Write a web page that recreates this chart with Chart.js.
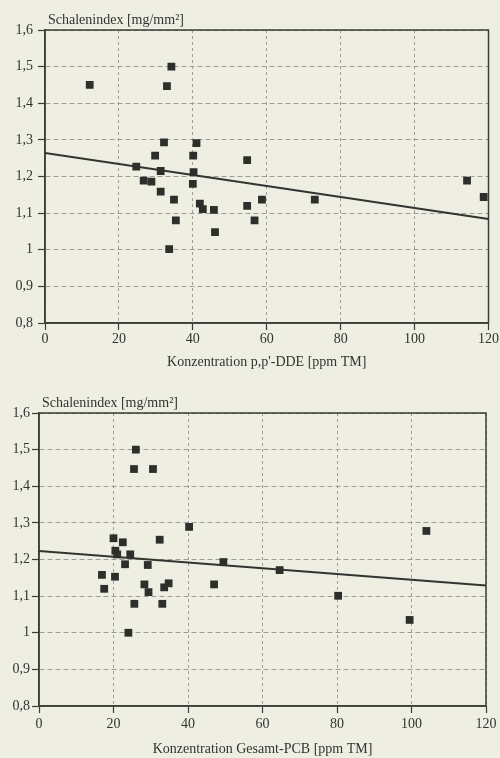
<!DOCTYPE html>
<html>
<head>
<meta charset="utf-8">
<title>Schalenindex</title>
<style>
  body { margin: 0; background: #efeee3; }
  .chart-box { position: absolute; left: 0; width: 500px; }
</style>
</head>
<body>
<div class="chart-box" style="top:0;height:378px"><canvas id="ddeChart" width="500" height="378"></canvas></div>
<div class="chart-box" style="top:378px;height:380px"><canvas id="pcbChart" width="500" height="380"></canvas></div>

<script src="https://cdn.jsdelivr.net/npm/chart.js"></script>
<script>
  // Werte
  var ddeX = [12.1, 34.2, 33.0, 32.2, 41.0, 29.8, 40.1, 24.7, 31.3, 40.2, 26.7, 28.8, 40.0, 31.3,
              34.9, 35.4, 33.6, 41.9, 42.7, 45.7, 46.0, 54.7, 54.7, 58.7, 56.7, 73.0, 114.2, 118.7];
  var ddeY = [1.45, 1.50, 1.447, 1.293, 1.291, 1.257, 1.257, 1.227, 1.215, 1.212, 1.189, 1.186, 1.18, 1.159,
              1.137, 1.08, 1.002, 1.126, 1.111, 1.109, 1.048, 1.12, 1.245, 1.137, 1.08, 1.137, 1.189, 1.144];
  var ddeFitX = [0, 120];
  var ddeFitY = [1.264, 1.084];

  var pcbX = [26.0, 25.5, 30.6, 40.3, 20.0, 22.5, 32.4, 20.5, 21.0, 24.5, 23.1, 29.2, 49.5, 16.9,
              20.4, 104.0, 64.6, 17.5, 28.3, 29.4, 25.6, 24.0, 33.6, 34.8, 33.1, 47.0, 80.3, 99.5];
  var pcbY = [1.50, 1.447, 1.447, 1.289, 1.258, 1.247, 1.254, 1.224, 1.214, 1.214, 1.187, 1.185, 1.193, 1.158,
              1.153, 1.278, 1.171, 1.12, 1.132, 1.111, 1.079, 1.0, 1.124, 1.135, 1.079, 1.132, 1.101, 1.035];
  var pcbFitX = [0, 120];
  var pcbFitY = [1.223, 1.129];

  var xTickLabels = ["0", "20", "40", "60", "80", "100", "120"];
  var yTickLabels = ["0,8", "0,9", "1", "1,1", "1,2", "1,3", "1,4", "1,5", "1,6"];

  var ink = "#333330";
  var gridGrey = "#9e9d94";
  var serif = "'Liberation Serif', 'DejaVu Serif', serif";

  // Rahmen und y-Achsentitel
  var framePlugin = {
    id: "frame",
    beforeDatasetsDraw: function (chart, args, opts) {
      var ctx = chart.ctx, a = chart.chartArea;
      ctx.save();
      ctx.strokeStyle = "#3c3c38";
      ctx.lineWidth = 1.5;
      ctx.strokeRect(a.left, a.top, a.right - a.left, a.bottom - a.top);
      ctx.font = "14px " + serif;
      ctx.fillStyle = ink;
      ctx.textBaseline = "middle";
      ctx.fillText(opts.text, a.left + 3, a.top - 10);
      ctx.restore();
    }
  };

  function pairs(xs, ys) {
    return xs.map(function (x, i) { return { x: x, y: ys[i] }; });
  }

  function makeChart(id, xs, ys, fitX, fitY, xTitle, lay) {
    return new Chart(document.getElementById(id), {
      type: "scatter",
      data: {
        datasets: [
          {
            data: pairs(xs, ys),
            backgroundColor: "#2e2e2b",
            borderWidth: 0,
            pointStyle: "rect",
            pointRadius: 5.5,
          },
          {
            type: "line",
            data: pairs(fitX, fitY),
            borderColor: "#333330",
            borderWidth: 2,
            pointRadius: 0,
            fill: false,
          },
        ],
      },
      options: {
        responsive: false,
        animation: false,
        devicePixelRatio: 1,
        layout: { padding: { top: lay.top, right: lay.right, left: 0, bottom: 0 } },
        plugins: {
          legend: { display: false },
          tooltip: { enabled: false },
          frame: { text: "Schalenindex [mg/mm²]" },
        },
        scales: {
          x: {
            type: "linear",
            min: 0,
            max: 120,
            afterFit: function (s) { s.height = lay.xHeight; },
            ticks: {
              stepSize: 20,
              padding: lay.xPad,
              color: ink,
              font: { family: serif, size: 14 },
              callback: function (v, i) { return xTickLabels[i]; },
            },
            grid: { color: gridGrey, lineWidth: 1, tickLength: 7, tickColor: "#3c3c38", tickWidth: 1.2 },
            border: { display: true, color: "#3c3c38", width: 1.5, dash: [3, 3] },
            title: {
              display: true,
              text: xTitle,
              color: ink,
              font: { family: serif, size: 14 },
              padding: { top: 0, bottom: lay.titlePad },
            },
          },
          y: {
            type: "linear",
            min: 0.8,
            max: 1.6,
            afterFit: function (s) { s.width = lay.left; },
            ticks: {
              stepSize: 0.1,
              padding: lay.yPad,
              color: ink,
              font: { family: serif, size: 14 },
              callback: function (v, i) { return yTickLabels[i]; },
            },
            grid: { color: gridGrey, lineWidth: 1, tickLength: 7, tickColor: "#3c3c38", tickWidth: 1.2 },
            border: { display: true, color: "#3c3c38", width: 1.5, dash: [5, 3] },
          },
        },
      },
      plugins: [framePlugin],
    });
  }

  makeChart("ddeChart", ddeX, ddeY, ddeFitX, ddeFitY, "Konzentration p,p'-DDE [ppm TM]",
    { top: 30, right: 9, left: 45, xHeight: 55, xPad: 1, yPad: 5, titlePad: 7 });

  makeChart("pcbChart", pcbX, pcbY, pcbFitX, pcbFitY, "Konzentration Gesamt-PCB [ppm TM]",
    { top: 35, right: 14, left: 39, xHeight: 52, xPad: 3, yPad: 2, titlePad: 0 });
</script>
</body>
</html>
